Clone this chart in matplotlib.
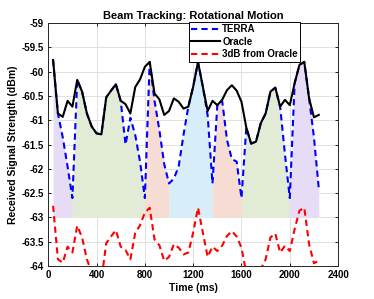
import numpy as np
import matplotlib
matplotlib.use('Agg')
matplotlib.rc('font', family='Liberation Sans', weight='bold', size=7)
import matplotlib.pyplot as plt

# sample times (ms)
time_ms = [40, 80, 120, 160, 200, 240, 280, 320, 360, 400, 440, 480, 520, 560,
           600, 640, 680, 720, 760, 800, 840, 880, 920, 960, 1000, 1040, 1080,
           1120, 1160, 1200, 1240, 1280, 1320, 1360, 1400, 1440, 1480, 1520,
           1560, 1600, 1640, 1680, 1720, 1760, 1800, 1840, 1880, 1920, 1960,
           2000, 2040, 2080, 2120, 2160, 2200, 2240]

oracle = [-59.76, -60.86, -60.93, -60.60, -60.72, -60.17, -60.41, -60.86,
          -61.13, -61.27, -61.29, -60.53, -60.39, -60.26, -60.60, -60.67,
          -60.86, -60.32, -60.16, -59.90, -59.80, -60.45, -60.57, -60.89,
          -60.81, -60.55, -60.62, -60.76, -60.72, -60.31, -59.80, -60.31,
          -60.81, -60.60, -60.69, -60.58, -60.38, -60.28, -60.39, -60.62,
          -61.15, -61.48, -61.44, -61.06, -60.86, -60.41, -60.33, -60.72,
          -60.58, -60.69, -60.24, -59.86, -59.80, -60.55, -60.94, -60.89]

terra = [-59.76, -60.86, -61.35, -61.95, -62.60, -60.17, -60.41, -60.86,
         -61.13, -61.27, -61.29, -60.53, -60.39, -60.26, -60.60, -61.50,
         -60.95, -61.30, -61.85, -62.60, -59.80, -60.60, -61.20, -61.90,
         -62.30, -62.20, -61.95, -61.30, -60.72, -60.31, -59.80, -60.31,
         -60.90, -62.30, -60.69, -60.60, -61.40, -61.80, -61.85, -62.60,
         -61.15, -61.48, -61.44, -61.06, -60.86, -60.41, -60.33, -60.72,
         -61.70, -62.60, -60.24, -59.86, -59.80, -60.55, -61.35, -62.40]

# shaded beam segments: (start ms, end ms, colour)
seg_start = [40, 200, 800, 1000, 1360, 1600, 2000]
seg_end = [200, 800, 1000, 1360, 1600, 2000, 2240]
seg_color = ['#e6dcf5', '#e2ebd5', '#f6dcd2', '#d7eef9', '#f6dcd2', '#e2ebd5', '#e6dcf5']

fill_floor = -63


def main():
    t = np.array(time_ms)
    orc = np.array(oracle)
    ter = np.array(terra)

    fig = plt.figure(figsize=(3.74, 2.99), dpi=100)
    ax = fig.add_axes([0.129, 0.110, 0.775, 0.813])

    for s, e, c in zip(seg_start, seg_end, seg_color):
        m = (t >= s) & (t <= e)
        ax.fill_between(t[m], ter[m], fill_floor, color=c, lw=0, zorder=1)

    ax.plot(t, ter, '--', color='#0000ff', lw=1.5, dashes=(3, 2), label='TERRA', zorder=3)
    ax.plot(t, orc, '-', color='k', lw=1.5, label='Oracle', zorder=4)
    ax.plot(t, orc - 3, '--', color='#ff0000', lw=1.5, dashes=(3, 2),
            label='3dB from Oracle', zorder=3)

    ax.set_xlim(0, 2400)
    ax.set_ylim(-64, -59)
    ax.set_xticks(np.arange(0, 2401, 400))
    ax.set_yticks(np.arange(-64, -58.9, 0.5))
    ax.set_yticklabels(['-64', '-63.5', '-63', '-62.5', '-62', '-61.5', '-61',
                        '-60.5', '-60', '-59.5', '-59'])
    ax.grid(True, color='#dcdcdc', lw=0.6, zorder=0)
    ax.set_axisbelow(True)
    ax.tick_params(direction='in', length=2, width=0.6, top=True, right=True,
                   labelsize=7, pad=3)
    for sp in ax.spines.values():
        sp.set_linewidth(0.7)
        sp.set_color('#262626')

    ax.set_xlabel('Time (ms)', fontsize=7.5, fontweight='bold', labelpad=2)
    ax.set_ylabel('Received Signal Strength (dBm)', fontsize=7.5, fontweight='bold', labelpad=3)
    ax.set_title('Beam Tracking: Rotational Motion', fontsize=8, fontweight='bold', pad=3)

    leg = ax.legend(loc='upper right', bbox_to_anchor=(0.87, 1.005), borderaxespad=0,
                    fontsize=7, frameon=True, fancybox=False, handlelength=3.0,
                    handletextpad=0.2, borderpad=0.25, labelspacing=0.25)
    leg.get_frame().set_edgecolor('k')
    leg.get_frame().set_linewidth(0.7)
    leg.get_frame().set_alpha(1)

    fig.savefig('out.png', dpi=100)


if __name__ == '__main__':
    main()
